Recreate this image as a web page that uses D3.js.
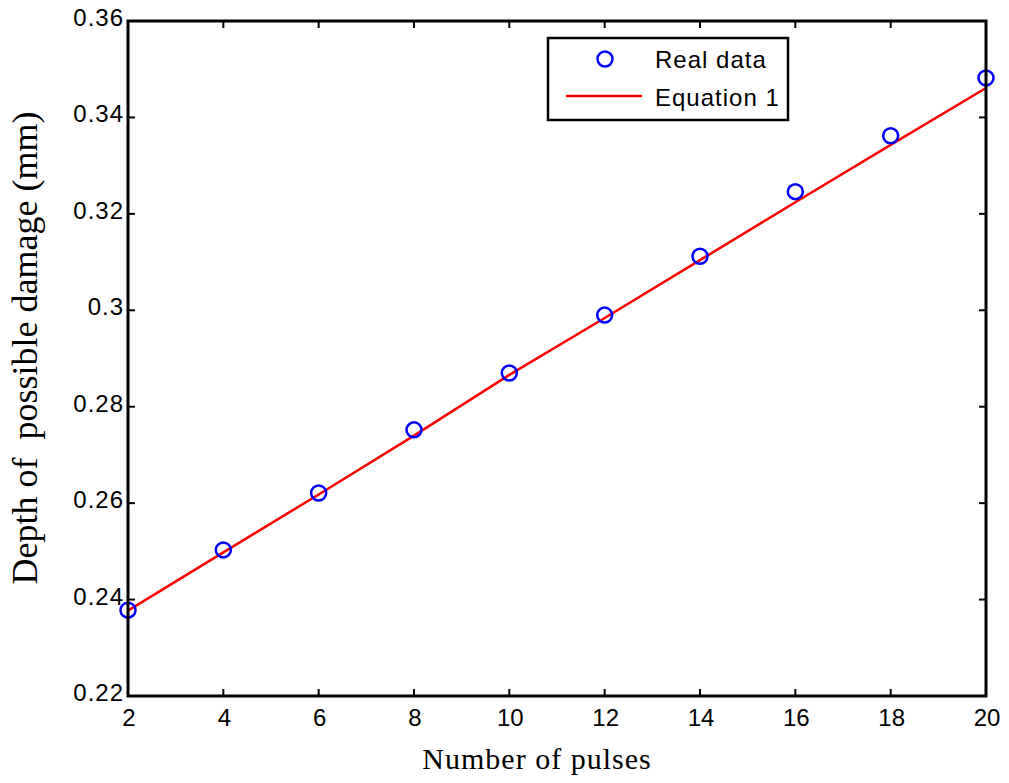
<!DOCTYPE html>
<html><head><meta charset="utf-8">
<script src="https://cdn.jsdelivr.net/npm/d3@7"></script>
<style>body{margin:0;background:#fff}</style>
</head><body><svg id="c" width="1009" height="783"></svg>
<script>
const pulses = [2,4,6,8,10,12,14,16,18,20];
const realData = [0.2378,0.2503,0.2621,0.2752,0.2870,0.2990,0.3112,0.3246,0.3362,0.3482];
const equation1 = [0.2377,0.2498,0.2618,0.2740,0.2866,0.2984,0.3104,0.3224,0.3343,0.3461];
const xTicks = [2,4,6,8,10,12,14,16,18,20];
const yTicks = [0.22,0.24,0.26,0.28,0.30,0.32,0.34,0.36];
const yTickLabels = ["0.22","0.24","0.26","0.28","0.3","0.32","0.34","0.36"];

const svg = d3.select("#c");
const L=128,R=986,T=21,B=696;
const x = d3.scaleLinear().domain([2,20]).range([L,R]);
const y = d3.scaleLinear().domain([0.22,0.36]).range([B,T]);
const tickFont = "Arial, 'Liberation Sans', sans-serif";
const serif = "'Liberation Serif','Times New Roman',serif";

const tl=7;
const g = svg.append("g");
xTicks.forEach(v=>{
  g.append("line").attr("x1",x(v)).attr("x2",x(v)).attr("y1",B).attr("y2",B-tl).attr("stroke","#000").attr("stroke-width",2);
  g.append("line").attr("x1",x(v)).attr("x2",x(v)).attr("y1",T).attr("y2",T+tl).attr("stroke","#000").attr("stroke-width",2);
  g.append("text").attr("x",x(v)+1).attr("y",B+30).attr("text-anchor","middle")
    .attr("font-family",tickFont).attr("font-size",24).text(v);
});
yTicks.forEach((v,i)=>{
  g.append("line").attr("x1",L).attr("x2",L+tl).attr("y1",y(v)).attr("y2",y(v)).attr("stroke","#000").attr("stroke-width",2);
  g.append("line").attr("x1",R).attr("x2",R-tl).attr("y1",y(v)).attr("y2",y(v)).attr("stroke","#000").attr("stroke-width",2);
  g.append("text").attr("x",L-4).attr("y",y(v)+5).attr("text-anchor","end")
    .attr("font-family",tickFont).attr("font-size",24).attr("letter-spacing",1).text(yTickLabels[i]);
});

const line = d3.line().x((d,i)=>x(pulses[i])).y(d=>y(d));
svg.append("path").datum(equation1).attr("d",line).attr("fill","none").attr("stroke","#ff0000").attr("stroke-width",2.5);

svg.selectAll("circle.pt").data(realData).enter().append("circle").attr("class","pt")
  .attr("cx",(d,i)=>x(pulses[i])).attr("cy",d=>y(d)).attr("r",7.5)
  .attr("fill","none").attr("stroke","#0000ff").attr("stroke-width",2.5);

svg.append("rect").attr("x",L).attr("y",T).attr("width",R-L).attr("height",B-T)
  .attr("fill","none").attr("stroke","#000").attr("stroke-width",3);

svg.append("text").attr("x",537).attr("y",769).attr("text-anchor","middle")
  .attr("font-family",serif).attr("font-size",30).attr("letter-spacing",1).text("Number of pulses");
svg.append("text").attr("transform",`translate(37,348) rotate(-90)`).attr("text-anchor","middle")
  .attr("font-family",serif).attr("font-size",36)
  .style("white-space","pre").text("Depth of  possible damage (mm)");

const lg = svg.append("g");
lg.append("rect").attr("x",548).attr("y",38).attr("width",240).attr("height",82)
  .attr("fill","#fff").attr("stroke","#000").attr("stroke-width",2.5);
lg.append("circle").attr("cx",605).attr("cy",59).attr("r",7.5).attr("fill","none").attr("stroke","#0000ff").attr("stroke-width",2.5);
lg.append("line").attr("x1",566).attr("x2",642).attr("y1",96).attr("y2",96).attr("stroke","#ff0000").attr("stroke-width",2.5);
lg.append("text").attr("x",655).attr("y",68).attr("font-family",tickFont).attr("font-size",24).attr("letter-spacing",1).text("Real data");
lg.append("text").attr("x",655).attr("y",106).attr("font-family",tickFont).attr("font-size",24).attr("letter-spacing",1).text("Equation 1");
</script></body></html>
